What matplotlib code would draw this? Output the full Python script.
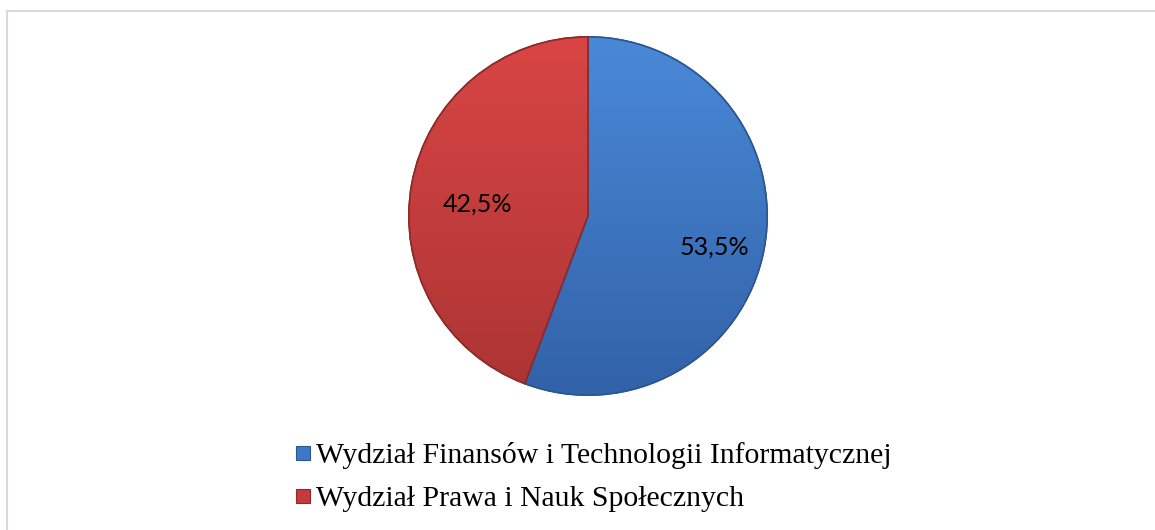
import numpy as np
import matplotlib.pyplot as plt
from matplotlib.colors import LinearSegmentedColormap
from matplotlib.patches import PathPatch
from matplotlib.lines import Line2D

# data
categories = ['Wydział Finansów i Technologii Informatycznej',
              'Wydział Prawa i Nauk Społecznych']
shares = [53.5, 42.5]
top_colors = ['#4a89d8', '#d94545']
bottom_colors = ['#3262a8', '#ac3434']
edge_colors = ['#2c5690', '#8c2a2a']


def pct_label(value):
    return f'{value:.1f}%'.replace('.', ',')


def main():
    fig = plt.figure(figsize=(11.55, 5.3), dpi=100)

    # light gray chart frame (cropped at right and bottom)
    fig.add_artist(Line2D([6.5 / 1155, 1], [1 - 10.5 / 530] * 2, color='#d9d9d9', lw=1.5))
    fig.add_artist(Line2D([6.5 / 1155] * 2, [0, 1 - 10.5 / 530], color='#d9d9d9', lw=1.5))

    cx, cy, r = 588, 216, 180
    ax = fig.add_axes([(cx - r) / 1155, 1 - (cy + r) / 530, 2 * r / 1155, 2 * r / 530])
    wedges, _ = ax.pie(shares, startangle=90, counterclock=False,
                       colors=top_colors, radius=1,
                       wedgeprops=dict(linewidth=1.2))

    # vertical gradient fill clipped to each wedge
    grad = np.linspace(0, 1, 256).reshape(-1, 1)
    for w, top, bot, ec in zip(wedges, top_colors, bottom_colors, edge_colors):
        w.set_edgecolor(ec)
        cmap = LinearSegmentedColormap.from_list('g', [top, bot])
        im = ax.imshow(grad, cmap=cmap, extent=[-1, 1, -1, 1], origin='upper',
                       aspect='auto', zorder=w.get_zorder() + 0.1)
        im.set_clip_path(w)
        ax.add_patch(PathPatch(w.get_path(), transform=w.get_transform(), fill=False,
                               edgecolor=ec, lw=1.2, zorder=w.get_zorder() + 0.2))

    # percentage labels at the middle of each slice
    total = sum(shares)
    start = 90.0
    for value, dist in zip(shares, [0.72, 0.63]):
        span = value / total * 360
        mid = np.deg2rad(start - span / 2)
        ax.text(dist * np.cos(mid), dist * np.sin(mid) - 0.045, pct_label(value),
                ha='center', va='center', fontsize=18, family='Lato',
                color='black', zorder=10)
        start -= span

    ax.set_xlim(-1.005, 1.005)
    ax.set_ylim(-1.005, 1.005)
    ax.axis('off')

    handles = [Line2D([], [], ls='none', marker='s', markersize=10,
                      markerfacecolor=c, markeredgecolor=e, markeredgewidth=0.8)
               for c, e in zip(['#3d78c8', '#c23c3c'], edge_colors)]
    fig.legend(handles, categories, loc='upper left',
               bbox_to_anchor=(298 / 1155, 1 - 442 / 530),
               frameon=False, prop=dict(family='Liberation Serif', size=21.4),
               handlelength=0.34, handletextpad=0.27,
               labelspacing=0.56, borderpad=0, borderaxespad=0)

    fig.savefig('out.png', dpi=100, facecolor='white')


if __name__ == '__main__':
    main()
